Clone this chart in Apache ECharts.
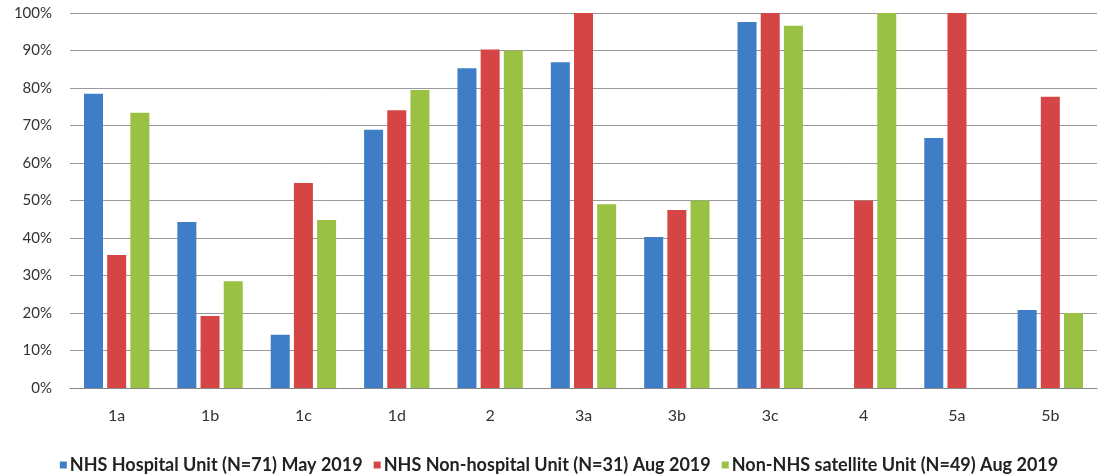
<!DOCTYPE html>
<html><head><meta charset="utf-8">
<script src="https://cdn.jsdelivr.net/npm/echarts@6/dist/echarts.min.js"></script>
<style>html,body{margin:0;padding:0;background:#fff}#c{width:1118px;height:476px}</style>
</head><body><div id="c"></div>
<script>
const categories = ['1a','1b','1c','1d','2','3a','3b','3c','4','5a','5b'];
const seriesNames = ['NHS Hospital Unit (N=71) May 2019','NHS Non-hospital Unit (N=31) Aug 2019','Non-NHS satellite Unit (N=49) Aug 2019'];
const nhsHospital = [78.5, 44.3, 14.2, 68.9, 85.3, 86.9, 40.3, 97.6, 0, 66.7, 20.8];
const nhsNonHospital = [35.5, 19.2, 54.7, 74.1, 90.3, 100, 47.5, 100, 50, 100, 77.7];
const nonNhsSatellite = [73.4, 28.5, 44.8, 79.5, 90, 49, 50, 96.6, 100, 0, 20];
const yTicks = [0,10,20,30,40,50,60,70,80,90,100];
const colors = ['#3f7ec6','#d64545','#9ac144'];

const chart = echarts.init(document.getElementById('c'));
const font = 'Lato, "Open Sans", sans-serif';
chart.setOption({
  animation:false,
  color: colors,
  grid:{left:70,right:21,top:13,bottom:88},
  legend:{
    top:451, left:'center',
    itemWidth:7,itemHeight:7,itemGap:11,
    icon:'rect',
    textStyle:{fontFamily:font,fontWeight:'bold',fontSize:18,color:'#222',padding:[0,0,0,-2]},
    data:seriesNames
  },
  xAxis:{
    type:'category', data:categories,
    axisLine:{lineStyle:{color:'#888',width:1}},
    axisTick:{show:false},
    axisLabel:{fontFamily:font,fontSize:16,color:'#333',margin:20}
  },
  yAxis:{
    type:'value', min:0, max:100, interval:10,
    axisLine:{show:false}, axisTick:{show:false},
    splitLine:{lineStyle:{color:'#9a9a9a',width:1}},
    axisLabel:{fontFamily:font,fontSize:15,color:'#333',margin:18,
      formatter:v=> yTicks.includes(v)? v+'%':''}
  },
  series:[
    {name:seriesNames[0],type:'bar',data:nhsHospital,barGap:'22%',barCategoryGap:'30%'},
    {name:seriesNames[1],type:'bar',data:nhsNonHospital,barGap:'22%',barCategoryGap:'30%'},
    {name:seriesNames[2],type:'bar',data:nonNhsSatellite,barGap:'22%',barCategoryGap:'30%'}
  ]
});
</script></body></html>
